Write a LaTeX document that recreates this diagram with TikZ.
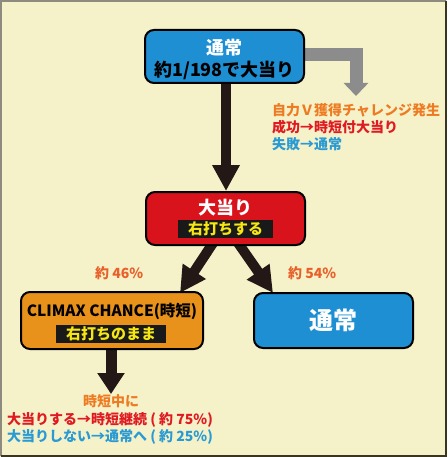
\documentclass[tikz,border=0pt]{standalone}
\usepackage{fontspec}
\setmainfont{Noto Sans CJK JP}
\usetikzlibrary{arrows.meta}
\pgfdeclarelayer{arrowlayer}
\pgfdeclarelayer{bglayer}
\pgfsetlayers{bglayer,arrowlayer,main}
\definecolor{bgc}{HTML}{F5F2CA}
\definecolor{boxblue}{HTML}{1F8FD3}
\definecolor{boxred}{HTML}{D9131B}
\definecolor{boxorange}{HTML}{E8921B}
\definecolor{bandyellow}{HTML}{F5E614}
\definecolor{txtorange}{HTML}{EE7B22}
\definecolor{txtpct}{HTML}{E8602A}
\definecolor{txtred}{HTML}{E01A22}
\definecolor{txtblue}{HTML}{2A9AD3}
\definecolor{arrgray}{HTML}{8C8C8C}
\definecolor{arrblack}{HTML}{231815}
\definecolor{frametl}{HTML}{8F8A7E}
\definecolor{framebr}{HTML}{3A3522}
\begin{document}
\begin{tikzpicture}[x=1pt,y=-1pt,
  flowbox/.style={draw=black,line width=2pt,rounded corners=9pt,inner sep=0pt},
  band/.style={fill=black!90,text=bandyellow,inner xsep=10pt,inner ysep=0pt,minimum height=18pt,font=\fontsize{15}{15}\selectfont\bfseries},
  lbl/.style={inner sep=0pt,anchor=west,font=\fontsize{14}{14}\selectfont\bfseries},
  bigarrow/.style={draw=arrblack,line width=10pt,-{Triangle[width=26pt,length=26pt]}},
  grayarrow/.style={draw=arrgray,line width=13pt,miter limit=10,-{Triangle[width=24pt,length=13pt]}}
]
\useasboundingbox (0,0) rectangle (447,457);
\begin{pgfonlayer}{bglayer}
\fill[bgc] (0,0) rectangle (447,457);
\draw[frametl,line width=2pt] (1,456) -- (1,1) -- (446,1);
\draw[framebr,line width=2pt] (446,1) -- (446,456) -- (1,456);
\end{pgfonlayer}

% boxes
\node[flowbox,fill=boxblue,minimum width=159pt,minimum height=53pt] (top) at (224.5,56.5) {};
\node[flowbox,fill=boxred,minimum width=159pt,minimum height=53pt] (hit) at (225.5,218.5) {};
\node[flowbox,fill=boxorange,minimum width=182pt,minimum height=57pt] (climax) at (112,320.5) {};
\node[flowbox,fill=boxblue,minimum width=159pt,minimum height=55pt] (normal) at (333.5,320.5) {};

% connector points
\coordinate (g0) at (290,54.5);
\coordinate (g1) at (356,54.5);
\coordinate (g2) at (356,96);
\coordinate (hitL) at (215,240);
\coordinate (hitR) at (236,240);
\coordinate (clTip) at (180,293);
\coordinate (nmTip) at (273,293);
\coordinate (clDown) at (111,346);
\coordinate (clDownTip) at (111,394);

% arrows (under the boxes)
\begin{pgfonlayer}{arrowlayer}
\draw[grayarrow] (g0) -- (g1) -- (g2);
\draw[bigarrow] (top.south -| 226,0) -- (hit.north -| 226,0);
\draw[bigarrow] (hitL) -- (clTip);
\draw[bigarrow] (hitR) -- (nmTip);
\draw[bigarrow,-{Triangle[width=26pt,length=21pt]},line width=11pt] (clDown) -- (clDownTip);
\end{pgfonlayer}

% box texts
\node[inner sep=0pt,text=white,font=\fontsize{18}{18}\selectfont\bfseries] (topT) at (224.5,48) {通常};
\node[inner sep=0pt,text=black,font=\fontsize{18}{18}\selectfont\bfseries] (topS) at (224.5,70) {約1/198で大当り};
\node[inner sep=0pt,text=white,font=\fontsize{18}{18}\selectfont\bfseries] (hitT) at (225.5,208) {大当り};
\node[band] (hitB) at (225.5,229) {右打ちする};
\node[inner sep=0pt,text=black,font=\fontsize{15.5}{15.5}\selectfont\bfseries] (clT) at (112,311) {CLIMAX CHANCE(時短)};
\node[band] (clB) at (111,334) {右打ちのまま};
\node[inner sep=0pt,text=white,font=\fontsize{24}{24}\selectfont\bfseries] (nmT) at (333.5,320) {通常};

% labels
\node[lbl,text=txtorange] (c1) at (272,110) {自力Ｖ獲得チャレンジ発生};
\node[lbl,text=txtred] (c2) at (272,127) {成功→時短付大当り};
\node[lbl,text=txtblue] (c3) at (272,144) {失敗→通常};
\node[lbl,text=txtpct] (p46) at (95,273) {約 46\%};
\node[lbl,text=txtpct] (p54) at (288,273) {約 54\%};
\node[inner sep=0pt,text=txtorange,font=\fontsize{14}{14}\selectfont\bfseries] (d1) at (111,401) {時短中に};
\node[lbl,text=txtred] (d2) at (7,420) {大当りする→時短継続 ( 約 75\%)};
\node[lbl,text=txtblue] (d3) at (7,437) {大当りしない→通常へ ( 約 25\%)};
\end{tikzpicture}
\end{document}
